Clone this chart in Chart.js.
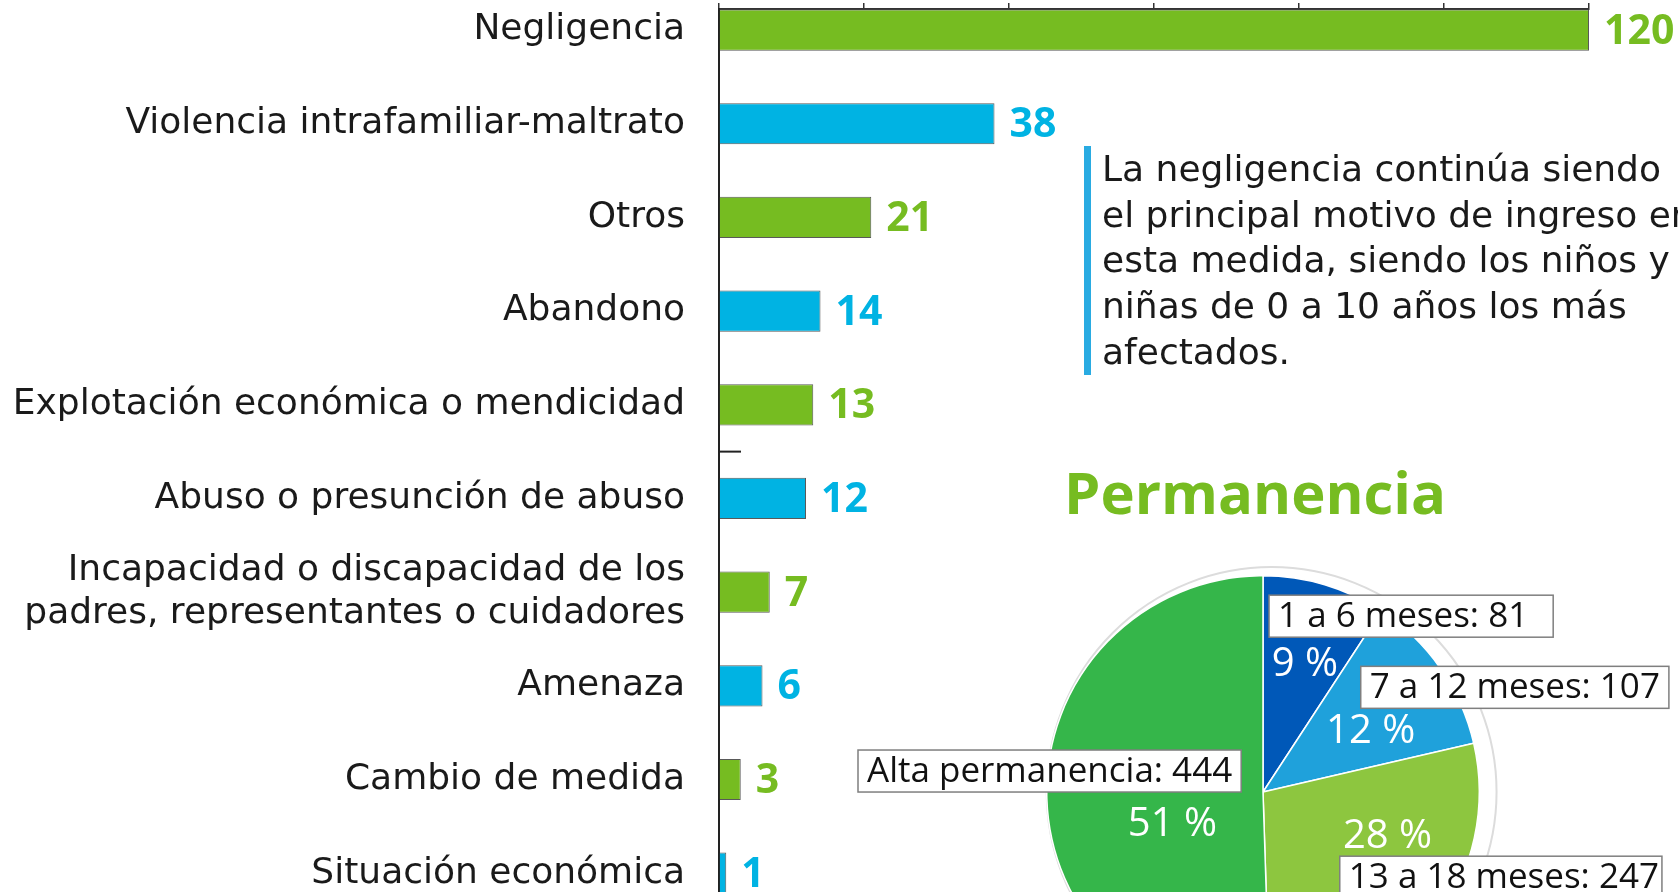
<!DOCTYPE html>
<html>
<head>
<meta charset="utf-8">
<script src="https://cdn.jsdelivr.net/npm/chart.js"></script>
<style>
html,body{margin:0;padding:0;background:#fff;overflow:hidden;width:1678px;height:892px;}
#barBox{position:absolute;left:0;top:0;width:1678px;height:920px;}
#pieBox{position:absolute;left:840px;top:540px;width:838px;height:520px;}
#nota{position:absolute;left:1084px;top:146px;border-left:7px solid #29ABE2;padding-left:11px;font-family:'DejaVu Sans';font-size:36px;line-height:45.7px;color:#1a1a1a;white-space:nowrap;}
#titulo{position:absolute;left:1064px;top:457px;font-family:'Open Sans';font-weight:bold;font-size:58px;line-height:70px;color:#76BC21;}
</style>
</head>
<body>
<div id="barBox"><canvas id="barras"></canvas></div>
<div id="nota">La negligencia continúa siendo<br>el principal motivo de ingreso en<br>esta medida, siendo los niños y<br>niñas de 0 a 10 años los más<br>afectados.</div>
<div id="titulo">Permanencia</div>
<div id="pieBox"><canvas id="torta"></canvas></div>
<script>
// motivos de ingreso
var motivos = [
	'Negligencia',
	'Violencia intrafamiliar-maltrato',
	'Otros',
	'Abandono',
	'Explotación económica o mendicidad',
	'Abuso o presunción de abuso',
	['Incapacidad o discapacidad de los', 'padres, representantes o cuidadores'],
	'Amenaza',
	'Cambio de medida',
	'Situación económica'
];
var casosMotivo = [120, 38, 21, 14, 13, 12, 7, 6, 3, 1];
var ticksX = [0, 20, 40, 60, 80, 100, 120];

// permanencia
var periodos = ['1 a 6 meses', '7 a 12 meses', '13 a 18 meses', 'Alta permanencia'];
var casosPeriodo = [81, 107, 247, 444];

var verde = '#76BC21';
var azul = '#00B3E3';
var coloresBarra = motivos.map(function(m, i){ return i % 2 == 0 ? verde : azul; });
var coloresTorta = ['#0058B8', '#1FA1DB', '#8DC63F', '#35B64A'];

var fuente = "'DejaVu Sans', sans-serif";
var fuenteNum = "'Open Sans', sans-serif";

var valoresBarra = {
	id: 'valoresBarra',
	afterDatasetsDraw: function(chart){
		var ctx = chart.ctx;
		var meta = chart.getDatasetMeta(0);
		ctx.save();
		ctx.font = 'bold 41px ' + fuenteNum;
		ctx.textBaseline = 'middle';
		meta.data.forEach(function(bar, i){
			ctx.fillStyle = coloresBarra[i];
			ctx.fillText(casosMotivo[i], bar.x + 15, bar.y + 2);
		});
		// marca suelta del eje
		var y = chart.scales.y.getPixelForValue(4.5);
		ctx.strokeStyle = '#222';
		ctx.lineWidth = 2;
		ctx.beginPath();
		ctx.moveTo(chart.chartArea.left, y);
		ctx.lineTo(chart.chartArea.left + 22, y);
		ctx.stroke();
		ctx.restore();
	}
};

new Chart(document.getElementById('barras'), {
	type: 'bar',
	data: {
		datasets: [{
			data: casosMotivo.map(function(v, i){ return {x: v, y: i}; }),
			backgroundColor: coloresBarra,
			borderColor: '#595959',
			borderWidth: 1,
			categoryPercentage: 1,
			barPercentage: 0.44
		}]
	},
	options: {
		indexAxis: 'y',
		responsive: true,
		maintainAspectRatio: false,
		animation: false,
		layout: {padding: {left: 0, right: 89, top: 0, bottom: 0}},
		plugins: {legend: {display: false}, tooltip: {enabled: false}},
		scales: {
			x: {
				position: 'top',
				min: ticksX[0],
				max: ticksX[ticksX.length - 1],
				afterBuildTicks: function(s){ s.ticks = ticksX.map(function(v){ return {value: v}; }); },
				ticks: {display: false},
				grid: {drawOnChartArea: false, drawTicks: true, tickLength: 6, color: '#333', lineWidth: 1.5},
				border: {display: true, color: '#333', width: 2},
				afterFit: function(s){ s.height = 9; s.paddingLeft = 0; s.paddingRight = 0; }
			},
			y: {
				type: 'linear',
				reverse: true,
				offset: false,
				min: -0.225,
				max: 9.5,
				afterBuildTicks: function(s){ s.ticks = motivos.map(function(m, i){ return {value: i}; }); },
				ticks: {
					autoSkip: false,
					padding: 34,
					color: '#1a1a1a',
					font: {family: fuente, size: 36, lineHeight: 1.22},
					callback: function(v){ return motivos[v]; }
				},
				grid: {display: false, drawTicks: false, offset: false},
				border: {display: true, color: '#222', width: 2},
				afterFit: function(s){ s.width = 719; s.paddingTop = 0; s.paddingBottom = 0; }
			}
		}
	},
	plugins: [valoresBarra]
});

var etiquetasTorta = {
	id: 'etiquetasTorta',
	beforeDatasetsDraw: function(chart){
		var a = chart.getDatasetMeta(0).data[0];
		var ctx = chart.ctx;
		var R = a.outerRadius;
		ctx.save();
		ctx.strokeStyle = '#dcdcdc';
		ctx.lineWidth = 2;
		ctx.beginPath();
		ctx.arc(a.x + R * 0.04, a.y, R * 1.04, 0, Math.PI * 2);
		ctx.stroke();
		ctx.restore();
	},
	afterDatasetsDraw: function(chart, args, opts){
		var meta = chart.getDatasetMeta(0);
		var ctx = chart.ctx;
		var total = casosPeriodo.reduce(function(s, v){ return s + v; }, 0);
		ctx.save();
		meta.data.forEach(function(arc, i){
			var R = arc.outerRadius;
			// porcentaje
			var p = opts.pct[i];
			ctx.font = '40px ' + fuenteNum;
			ctx.fillStyle = '#fff';
			ctx.textAlign = 'center';
			ctx.textBaseline = 'middle';
			ctx.fillText(Math.round(casosPeriodo[i] / total * 100) + ' %', arc.x + p[0] * R, arc.y + p[1] * R);
			// caja con nombre
			var c = opts.caja[i];
			var txt = periodos[i] + ': ' + casosPeriodo[i];
			ctx.font = '35px ' + fuenteNum;
			var w = ctx.measureText(txt).width + c[3];
			var h = 42;
			var bx = arc.x + c[0] * R;
			if (c[2] == 'right') bx -= w;
			var by = arc.y + c[1] * R - h / 2;
			ctx.fillStyle = '#fff';
			ctx.fillRect(bx, by, w, h);
			ctx.strokeStyle = '#7f7f7f';
			ctx.lineWidth = 1.5;
			ctx.strokeRect(bx, by, w, h);
			ctx.fillStyle = '#111';
			ctx.textAlign = 'left';
			ctx.fillText(txt, bx + 9, by + h / 2 + 1);
		});
		ctx.restore();
	}
};

new Chart(document.getElementById('torta'), {
	type: 'pie',
	data: {
		labels: periodos,
		datasets: [{
			data: casosPeriodo,
			backgroundColor: coloresTorta,
			borderColor: '#fff',
			borderWidth: 1.5
		}]
	},
	options: {
		responsive: true,
		maintainAspectRatio: false,
		animation: false,
		layout: {padding: {left: 206, right: 198, top: 35, bottom: 51}},
		plugins: {
			legend: {display: false},
			tooltip: {enabled: false},
			etiquetasTorta: {
				pct: [[0.194, -0.59], [0.498, -0.281], [0.576, 0.207], [-0.419, 0.152]],
				caja: [[0.028, -0.813, 'left', 34], [0.452, -0.484, 'left', 18], [0.355, 0.394, 'left', 12], [-0.101, -0.097, 'right', 18]]
			}
		}
	},
	plugins: [etiquetasTorta]
});
</script>
</body>
</html>
